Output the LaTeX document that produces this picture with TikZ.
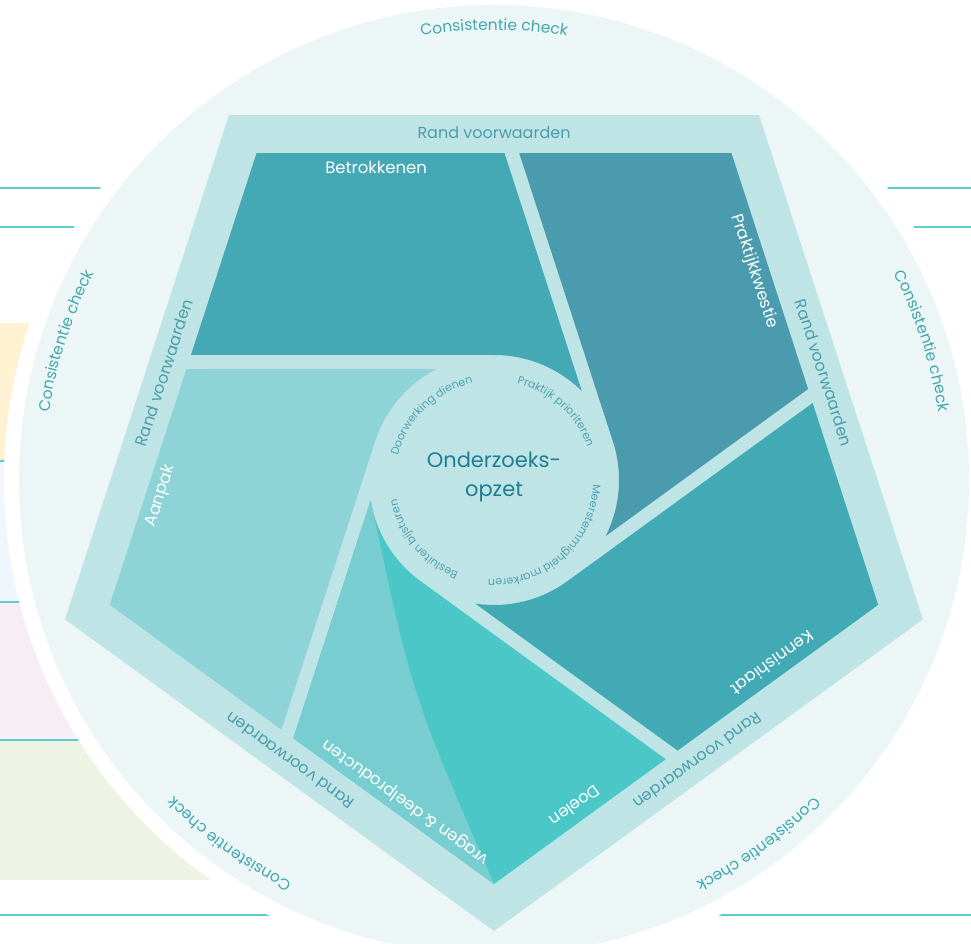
\documentclass[tikz,border=0pt]{standalone}
\usepackage{fontspec}
\setmainfont{Poppins}
\usepackage{tikz}
\usetikzlibrary{decorations.text}

\definecolor{pale}{HTML}{ECF6F7}
\definecolor{band}{HTML}{BFE4E6}
\definecolor{betrok}{HTML}{44A8B5}
\definecolor{prakt}{HTML}{4A9BAD}
\definecolor{kennis}{HTML}{41AAB5}
\definecolor{doelen}{HTML}{4BC7C7}
\definecolor{vragen}{HTML}{77CDCF}
\definecolor{aanpak}{HTML}{8DD3D7}
\definecolor{randtxt}{HTML}{4A9EAB}
\definecolor{checktxt}{HTML}{41A7AF}
\definecolor{coretxt}{HTML}{1F7D95}
\definecolor{ringtxt}{HTML}{4FA2B0}
\definecolor{rule}{HTML}{5BCDD2}
\definecolor{rowA}{HTML}{FFF2D3}
\definecolor{rowB}{HTML}{EFF6FC}
\definecolor{rowC}{HTML}{F7EDF4}
\definecolor{rowD}{HTML}{EEF4E5}

\newcommand\checkfont{\fontsize{15.5}{18}\selectfont}
\newcommand\ringfont{\fontsize{11}{13}\selectfont}

\begin{document}
\begin{tikzpicture}[x=1pt, y=1pt,
    bladetext/.style={text=white, font=\fontsize{16.5}{19}\selectfont},
    randtext/.style={text=randtxt, font=\fontsize{16}{19}\selectfont},
    checkring/.style={decorate, decoration={text along path,
        text={|\checkfont|Consistentie check}, text color=checktxt, text align=center}},
    ring/.style={decorate, decoration={text along path,
        text={|\ringfont|#1}, text color=ringtxt, text align=center}}]
  \useasboundingbox (-494,-464) rectangle (477,480);
  \clip (-494,-464) rectangle (477,480);

  % table rows behind the wheel
  \fill[rowA] (-494,157) rectangle (-150,19);
  \fill[rowB] (-494,19) rectangle (-150,-122);
  \fill[rowC] (-494,-122) rectangle (-150,-260);
  \fill[rowD] (-494,-260) rectangle (-150,-400);
  \foreach \y in {19,-122,-260}
    \draw[rule, line width=1.5] (-494,\y) -- (-150,\y);
  \foreach \y in {292,253,-435}
    \draw[rule, line width=1.5] (-494,\y) -- (477,\y);

  % wheel
  \fill[white] (0,0) circle[radius=490];
  \fill[pale] (0,0) circle[radius=475];
  \fill[band] (126:451) -- (54:451) -- (-18:451) -- (-90:451) -- (198:451) -- cycle;
  \foreach \col [count=\k from 0] in {betrok, prakt, kennis, doelen, aanpak}
    \fill[\col, rotate=-72*\k] (-303.06,125) -- (126:404) -- (10.51,326.84)
      -- (45.37:125) arc[start angle=45.37, end angle=90, radius=125] -- cycle;
  \fill[vragen] (-200.6,-258.2) -- (-90:404) .. controls (-82,-215) .. (-170.63:125) -- cycle;

  \foreach \txt [count=\k from 0] in {Betrokkenen, Praktijkkwestie, Kennishiaat, vragen \& deelproducten, Aanpak}
    \node[bladetext, rotate=-72*\k] (b\k) at ({110.7-72*\k}:333.6) {\txt};
  \node[bladetext, rotate=-144] (b5) at (81,-326) {Doelen};

  \foreach \k in {0,...,4}
    \node[randtext, rotate=-72*\k] (r\k) at ({90-72*\k}:347) {Rand voorwaarden};
  \foreach \k in {0,...,4}
    \path[checkring] ({120-72*\k}:450) arc[start angle={120-72*\k}, end angle={60-72*\k}, radius=450];

  % centre
  \node[text=coretxt, align=center, font=\fontsize{21}{29}\selectfont] (core) at (0,3) {Onderzoeks-\\opzet};
  \path[ring={Doorwerking dienen}] (214:99) arc[start angle=214, end angle=54, radius=99];
  \path[ring={Praktijk prioriteren}] (128:99) arc[start angle=128, end angle=-32, radius=99];
  \path[ring={Meerstemmigheid markeren}] (32:99) arc[start angle=32, end angle=-128, radius=99];
  \path[ring={Besluiten bijsturen}] (-60:99) arc[start angle=-60, end angle=-220, radius=99];
\end{tikzpicture}
\end{document}
